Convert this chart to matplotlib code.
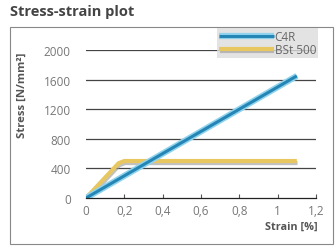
import matplotlib
matplotlib.use("Agg")
import matplotlib.pyplot as plt
import matplotlib.patheffects as pe
from matplotlib.patches import Rectangle

# data
c4r_strain = [0.0, 1.1]
c4r_stress = [0, 1650]
bst_strain = [0.0, 0.17, 0.2, 1.1]
bst_stress = [0, 470, 500, 500]
x_ticks = [0, 0.2, 0.4, 0.6, 0.8, 1.0, 1.2]
x_labels = ["0", "0,2", "0,4", "0,6", "0,8", "1", "1,2"]
y_ticks = [0, 400, 800, 1200, 1600, 2000]

plt.rcParams['font.family'] = ['Open Sans', 'DejaVu Sans']

W, H = 335, 251
fig = plt.figure(figsize=(W / 100, H / 100), dpi=100)
ax = fig.add_axes([86 / W, 1 - 199 / H, (316 - 86) / W, (199 - 51) / H])

blue = "#2586b5"
yellow = "#e9c760"

ax.plot(bst_strain, bst_stress, color=yellow, lw=3, solid_capstyle='butt', zorder=3,
        label="BSt 500",
        path_effects=[pe.SimpleLineShadow(offset=(0.5, -1.5), shadow_color="#999999", alpha=0.6), pe.Normal()])
ax.plot(c4r_strain, c4r_stress, color=blue, lw=2.2, solid_capstyle='butt', zorder=4,
        label="C4R",
        path_effects=[pe.Stroke(linewidth=4.5, foreground="#8fd3ee"), pe.Normal()])

ax.set_xlim(0, 1.2)
ax.set_ylim(0, 2000)
ax.set_xticks(x_ticks)
ax.set_xticklabels(x_labels)
ax.set_yticks(y_ticks)

for s in ["top", "right", "left"]:
    ax.spines[s].set_visible(False)
ax.spines["bottom"].set_color("#222222")
ax.spines["bottom"].set_linewidth(0.9)
ax.spines["bottom"].set_zorder(5)

for y in y_ticks[1:]:
    ax.axhline(y, color="#444444", lw=0.9, zorder=1)

ax.tick_params(axis='x', direction='in', length=3, color="#555555", labelsize=8.5,
               labelcolor="#777777", pad=4)
ax.tick_params(axis='y', length=0, labelsize=8.5, labelcolor="#777777", pad=11)

handles, labels = ax.get_legend_handles_labels()
leg = fig.legend(handles[::-1], labels[::-1], loc="upper right",
                 bbox_to_anchor=(318 / W, 1 - 29 / H), bbox_transform=fig.transFigure,
                 frameon=True, fancybox=False, fontsize=8.5, handlelength=4.6,
                 handletextpad=0.1, borderpad=0.15, labelspacing=0.0,
                 borderaxespad=0)
leg.get_frame().set_facecolor("#dcdcdc")
leg.get_frame().set_edgecolor("none")
for t in leg.get_texts():
    t.set_color("#666666")

fig.text(10 / W, 1 - 12 / H, "Stress-strain plot", fontsize=10.5, fontweight='bold',
         color="#444444", va='center', ha='left')
fig.text(318 / W, 1 - 227 / H, "Strain [%]", fontsize=7.8, fontweight='bold',
         color="#555555", ha='right', va='center')
fig.text(22 / W, 1 - 95 / H, "Stress [N/mm²]", fontsize=8.2, fontweight='bold',
         color="#555555", ha='center', va='center', rotation=90)

fig.add_artist(Rectangle((10 / W, 1 - 245 / H), (333 - 10) / W, (245 - 28) / H,
                         transform=fig.transFigure, fill=False, edgecolor="#888888", lw=0.8))

fig.savefig("out.png", dpi=100)
